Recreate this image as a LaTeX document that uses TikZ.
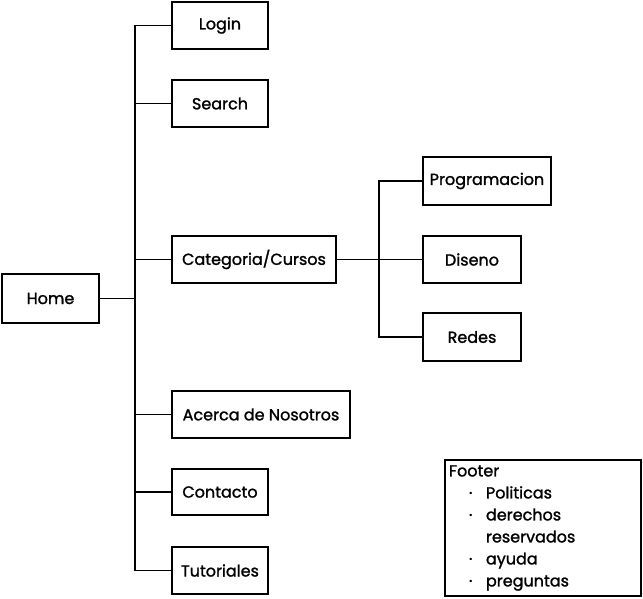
\documentclass[tikz,border=0pt]{standalone}
\usepackage{fontspec}
\setmainfont{Poppins}[BoldFont=Poppins, BoldFeatures={FakeBold=1.4}]
\begin{document}
\begin{tikzpicture}[x=1pt,y=-1pt,
  box/.style={draw=black, line width=2pt, fill=white, inner sep=0pt, font=\fontsize{16}{16}\selectfont\bfseries},
  conn/.style={draw=black, line width=1.8pt}]
\useasboundingbox (0,0) rectangle (643,598);
\node[box, minimum width=97pt, minimum height=49pt] (home) at (50.5,298.5) {Home};
\node[box, minimum width=96pt, minimum height=47pt] (login) at (220,25.5) {Login};
\node[box, minimum width=96pt, minimum height=47pt] (search) at (220,103.5) {Search};
\node[box, minimum width=164pt, minimum height=47pt] (cat) at (254,259.5) {Categoria/Cursos};
\node[box, minimum width=178pt, minimum height=47pt] (acerca) at (261,414.5) {Acerca de Nosotros};
\node[box, minimum width=96pt, minimum height=46pt] (contacto) at (220,492) {Contacto};
\node[box, minimum width=96pt, minimum height=47pt] (tut) at (220,570.5) {Tutoriales};
\node[box, minimum width=128pt, minimum height=48pt] (prog) at (487,181) {Programacion};
\node[box, minimum width=98pt, minimum height=47pt] (dis) at (472,259.5) {Diseno};
\node[box, minimum width=98pt, minimum height=48pt] (red) at (472,337) {Redes};
\coordinate (t1) at (135,298.5);
\coordinate (t2) at (379,259.5);
\draw[conn] (home.east) -- (t1);
\draw[conn] (login.west) -| (t1);
\draw[conn] (tut.west) -| (t1);
\draw[conn] (search.west) -- (search.west -| t1);
\draw[conn] (cat.west) -- (cat.west -| t1);
\draw[conn] (acerca.west) -- (acerca.west -| t1);
\draw[conn] (contacto.west) -- (contacto.west -| t1);
\draw[conn] (cat.east) -- (dis.west);
\draw[conn] (prog.west) -| (t2);
\draw[conn] (red.west) -| (t2);
\node[box, anchor=north west, minimum width=196pt, minimum height=136pt, text width=188pt, align=left, inner sep=4pt, font=\fontsize{16}{22}\selectfont\bfseries] (footer) at (444,459) {%
Footer\\
\hspace*{20pt}\makebox[17pt][l]{·}Politicas\\
\hspace*{20pt}\makebox[17pt][l]{·}derechos\\
\hspace*{37pt}reservados\\
\hspace*{20pt}\makebox[17pt][l]{·}ayuda\\
\hspace*{20pt}\makebox[17pt][l]{·}preguntas};
\end{tikzpicture}
\end{document}
